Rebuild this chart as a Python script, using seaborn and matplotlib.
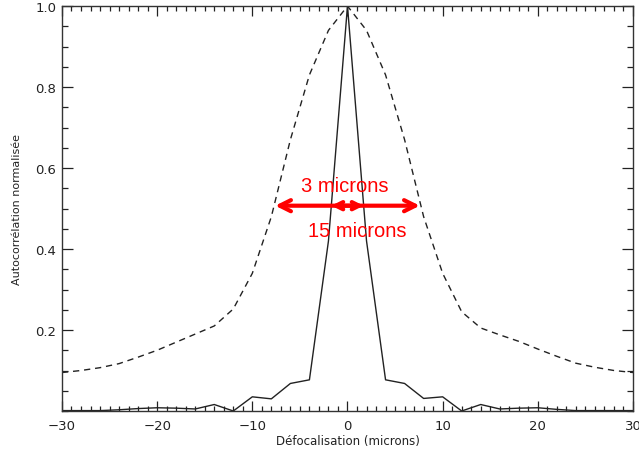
import seaborn as sns
import matplotlib.pyplot as plt
from matplotlib.ticker import MultipleLocator
import numpy as np
import pandas as pd

# defocus positions (microns), one sample every 2 microns
defocus = list(range(-30, 32, 2))

# narrow autocorrelation (solid)
solid = [0.001, 0.001, 0.001, 0.003, 0.006, 0.008, 0.007, 0.005, 0.016, 0.0,
         0.035, 0.030, 0.068, 0.077, 0.42, 1.0, 0.42, 0.077, 0.068, 0.031,
         0.035, 0.0, 0.016, 0.005, 0.007, 0.008, 0.004, 0.001, 0.001, 0.001, 0.001]

# wide autocorrelation (dashed)
dashed = [0.095, 0.100, 0.107, 0.117, 0.133, 0.150, 0.170, 0.190, 0.210, 0.252,
          0.34, 0.48, 0.67, 0.83, 0.94, 1.0, 0.94, 0.83, 0.67, 0.48,
          0.34, 0.245, 0.205, 0.188, 0.172, 0.153, 0.135, 0.118, 0.108, 0.100, 0.095]

df = pd.DataFrame({"x": defocus, "solid": solid, "dashed": dashed})

sns.set_style("ticks")
plt.rcParams['font.family'] = ['DejaVu Sans']

fig = plt.figure(figsize=(6.39, 4.56), dpi=100)
ax = fig.add_axes([0.097, 0.0965, 0.8936, 0.888])

sns.lineplot(data=df, x="x", y="dashed", ax=ax, color="#222222", lw=1.0)
ax.lines[-1].set_dashes([4.5, 3.5])
sns.lineplot(data=df, x="x", y="solid", ax=ax, color="#222222", lw=1.0)

ax.set_xlim(-30, 30)
ax.set_ylim(0, 1.0)
ax.xaxis.set_major_locator(MultipleLocator(10))
ax.xaxis.set_minor_locator(MultipleLocator(1))
ax.yaxis.set_major_locator(MultipleLocator(0.2))
ax.yaxis.set_minor_locator(MultipleLocator(0.05))
ax.set_yticks([0.2, 0.4, 0.6, 0.8, 1.0])
ax.set_yticklabels(["0.2", "0.4", "0.6", "0.8", "1.0"])
ax.set_xticks([-30, -20, -10, 0, 10, 20, 30])
ax.set_xticklabels(["\u221230", "\u221220", "\u221210", "0", "10", "20", "30"])

ax.tick_params(axis="both", which="both", direction="in", top=True, right=True,
               color="#222222", width=0.9, labelsize=9.5, labelcolor="#222222")
ax.tick_params(axis="y", which="major", length=8, pad=4)
ax.tick_params(axis="y", which="minor", length=4)
ax.tick_params(axis="x", which="major", length=7, pad=6)
ax.tick_params(axis="x", which="minor", length=3.5)
for s in ax.spines.values():
    s.set_color("#333333")
    s.set_linewidth(1.0)

ax.set_xlabel("Défocalisation (microns)", fontsize=8.5, color="#222222", labelpad=1)
ax.set_ylabel("Autocorrélation normalisée", fontsize=8, color="#222222", labelpad=10)

# red annotations
big = dict(arrowstyle="<->", color="red", lw=3, mutation_scale=20,
           shrinkA=0, shrinkB=0)
small = dict(arrowstyle="<->", color="red", lw=3, mutation_scale=13,
             shrinkA=0, shrinkB=0)
ax.annotate("", xy=(-7.6, 0.507), xytext=(7.6, 0.507), arrowprops=big)
ax.annotate("", xy=(-1.7, 0.507), xytext=(1.7, 0.507), arrowprops=small)
ax.text(-0.3, 0.556, "3 microns", color="red", fontsize=14.5, ha="center", va="center",
        family=["Liberation Sans", "DejaVu Sans"])
ax.text(1.0, 0.445, "15 microns", color="red", fontsize=14.5, ha="center", va="center",
        family=["Liberation Sans", "DejaVu Sans"])

fig.savefig("out.png", dpi=100)
